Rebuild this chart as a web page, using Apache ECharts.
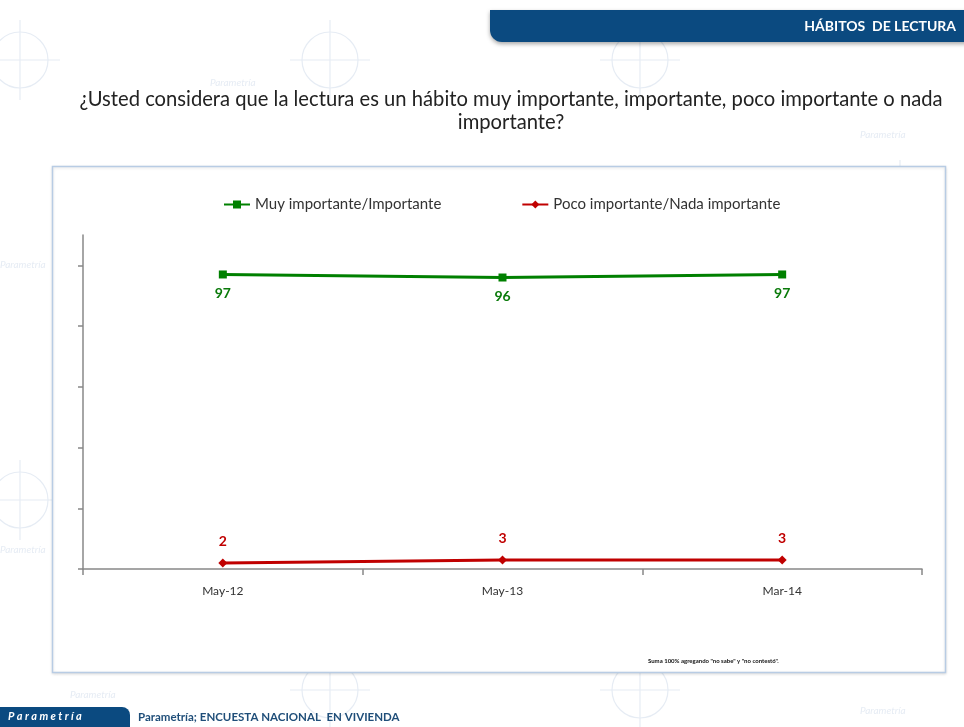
<!DOCTYPE html>
<html>
<head>
<meta charset="utf-8">
<script src="https://cdn.jsdelivr.net/npm/echarts@6/dist/echarts.min.js"></script>
<style>
html,body{margin:0;padding:0;background:#fff;}
#c{width:964px;height:727px;}
</style>
</head>
<body>
<div id="c"></div>
<script>
const categories = ['May-12', 'May-13', 'Mar-14'];
const seriesNames = ['Muy importante/Importante', 'Poco importante/Nada importante'];
const muyImportante = [97, 96, 97];
const pocoImportante = [2, 3, 3];
const yTicks = [0, 20, 40, 60, 80, 100];

const FONT = 'Lato, "Open Sans", sans-serif';
const chart = echarts.init(document.getElementById('c'), null, {renderer: 'canvas'});

const wm = '#e6ecf4';
const watermark = [];
// faint watermark decoration
[[20,60],[330,60],[640,60],[900,200],[20,500],[900,560],[330,690],[640,690]].forEach(function(p){
  watermark.push({type:'circle', shape:{cx:p[0], cy:p[1], r:28}, style:{fill:'none', stroke:wm, lineWidth:1.2}, silent:true, z:-20});
  watermark.push({type:'line', shape:{x1:p[0]-40, y1:p[1], x2:p[0]+40, y2:p[1]}, style:{stroke:wm, lineWidth:1.2}, silent:true, z:-20});
  watermark.push({type:'line', shape:{x1:p[0], y1:p[1]-40, x2:p[0], y2:p[1]+40}, style:{stroke:wm, lineWidth:1.2}, silent:true, z:-20});
});
[[210,78],[860,130],[70,690],[860,706],[0,260],[0,545]].forEach(function(p){
  watermark.push({type:'text', x:p[0], y:p[1], style:{text:'Parametría', fill:wm, font:'italic 10px ' + FONT}, silent:true, z:-20});
});

chart.setOption({
  backgroundColor: '#ffffff',
  animation: false,
  textStyle: {fontFamily: FONT},
  graphic: watermark.concat([
    // header bar
    {type:'rect', shape:{x:490, y:10, width:480, height:32, r:[0,0,0,12]}, style:{fill:'#0b4a80', shadowBlur:4, shadowColor:'rgba(0,0,0,0.35)', shadowOffsetY:2}, z:1},
    {type:'text', x:956, y:19, style:{text:'HÁBITOS  DE LECTURA', fill:'#ffffff', font:'bold 14px ' + FONT, textAlign:'right'}, z:2},
    // question
    {type:'text', x:511, y:88, style:{text:'¿Usted considera que la lectura es un hábito muy importante, importante, poco importante o nada\nimportante?', fill:'#222222', font:'20.2px ' + FONT, textAlign:'center', lineHeight:23}, z:2},
    // chart box
    {type:'rect', shape:{x:52.5, y:166.5, width:893, height:506}, style:{fill:'#ffffff', stroke:'#b8cce4', lineWidth:1.5, shadowBlur:3, shadowColor:'rgba(0,0,0,0.12)', shadowOffsetY:1}, z:-10},
    // footnote
    {type:'text', x:648, y:658, style:{text:'Suma 100% agregando "no sabe" y "no contestó".', fill:'#111111', font:'bold 6px ' + FONT}, z:2},
    // footer
    {type:'rect', shape:{x:0, y:707, width:130, height:22, r:[0,8,0,0]}, style:{fill:'#0b4a80'}, z:2},
    {type:'text', x:8, y:711, style:{text:'P a r a m e t r í a', fill:'#ffffff', font:'italic bold 11px ' + FONT}, z:3},
    {type:'text', x:138, y:711, style:{text:'Parametría; ENCUESTA NACIONAL  EN VIVIENDA', fill:'#1f4e79', font:'bold 11.5px ' + FONT}, z:3}
  ]),
  legend: {
    top: 192,
    left: 218,
    itemGap: 80,
    itemWidth: 26,
    itemHeight: 10,
    textStyle: {fontSize: 15, color: '#333333', fontFamily: FONT},
    data: seriesNames
  },
  grid: {left: 83, right: 42, top: 235, bottom: 158, containLabel: false},
  xAxis: {
    type: 'category',
    data: categories,
    boundaryGap: true,
    axisLine: {lineStyle: {color: '#888888', width: 1.5}},
    axisTick: {show: true, interval: 0, length: 6, lineStyle: {color: '#888888', width: 1.5}},
    axisLabel: {color: '#333333', fontSize: 12, margin: 16, fontFamily: FONT}
  },
  yAxis: {
    type: 'value',
    min: 0,
    max: 110,
    interval: 20,
    axisLine: {show: true, lineStyle: {color: '#888888', width: 1.5}},
    axisTick: {show: true, length: 5, customValues: yTicks, lineStyle: {color: '#888888', width: 1.5}},
    axisLabel: {show: false},
    splitLine: {show: false}
  },
  series: [
    {
      name: seriesNames[0],
      type: 'line',
      data: muyImportante,
      symbol: 'rect',
      symbolSize: 8,
      color: '#008000',
      lineStyle: {color: '#008000', width: 3},
      itemStyle: {color: '#008000'},
      label: {show: true, position: 'bottom', distance: 8, color: '#0a7a0a', fontWeight: 'bold', fontSize: 14, fontFamily: FONT}
    },
    {
      name: seriesNames[1],
      type: 'line',
      data: pocoImportante,
      symbol: 'diamond',
      symbolSize: 9,
      color: '#c00000',
      lineStyle: {color: '#c00000', width: 3},
      itemStyle: {color: '#c00000'},
      label: {show: true, position: 'top', distance: 10, color: '#c00000', fontWeight: 'bold', fontSize: 14, fontFamily: FONT}
    }
  ]
});
</script>
</body>
</html>
